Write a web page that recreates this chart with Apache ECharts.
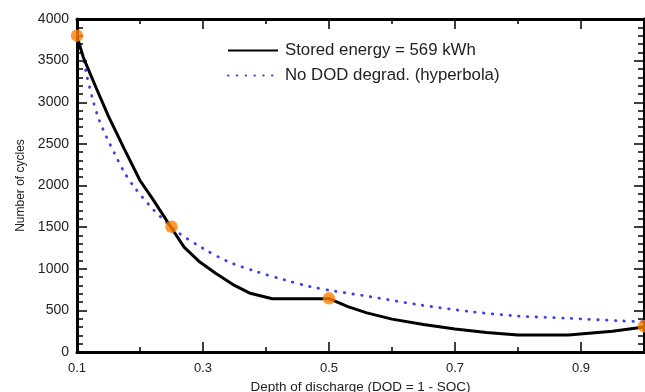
<!DOCTYPE html>
<html>
<head>
<meta charset="utf-8">
<script src="https://cdn.jsdelivr.net/npm/echarts@6/dist/echarts.min.js"></script>
<style>
html,body{margin:0;padding:0;background:#fff;}
#c{width:645px;height:392px;}
</style>
</head>
<body>
<div id="c"></div>
<script>
// Data
var storedDod = [0.1, 0.11, 0.13, 0.15, 0.175, 0.2, 0.22, 0.25, 0.27, 0.295, 0.32, 0.35, 0.375, 0.41, 0.5, 0.53, 0.56, 0.6, 0.65, 0.7, 0.75, 0.8, 0.88, 0.95, 1.0];
var storedCycles = [3790, 3540, 3180, 2830, 2440, 2060, 1840, 1490, 1260, 1080, 945, 800, 705, 640, 640, 545, 470, 395, 330, 275, 235, 205, 205, 250, 300];

var hypDod = [0.1, 0.105, 0.115, 0.125, 0.135, 0.147, 0.16, 0.175, 0.19, 0.22, 0.26, 0.3, 0.34, 0.385, 0.43, 0.47, 0.51, 0.565, 0.645, 0.725, 0.8, 0.88, 0.96, 1.0];
var hypCycles = [3800, 3680, 3340, 3030, 2790, 2580, 2380, 2160, 1990, 1720, 1440, 1245, 1085, 965, 865, 785, 730, 665, 565, 485, 432, 405, 375, 362];

var markerDod = [0.1, 0.25, 0.5, 1.0];
var markerCycles = [3800, 1505, 645, 310];

var xLabels = [0.1, 0.3, 0.5, 0.7, 0.9];
var xMajorTicks = [0.3, 0.5, 0.7, 0.9];

var seriesNames = ['Stored energy = 569 kWh', 'No DOD degrad. (hyperbola)'];
var xTitle = 'Depth of discharge (DOD = 1 - SOC)';
var yTitle = 'Number of cycles';

function zip(a, b) { return a.map(function (v, i) { return [v, b[i]]; }); }

var font = 'Liberation Sans, Arial, sans-serif';
var axisLineStyle = { color: '#000', width: 3 };

function xAxisBase(pos, major) {
  return {
    type: 'value', position: pos, min: 0.1, max: 1.0, interval: 0.1,
    axisLine: { show: !major, lineStyle: axisLineStyle },
    axisTick: major
      ? { show: true, inside: true, length: 10, lineStyle: { color: '#000', width: 1.5 }, customValues: xMajorTicks }
      : { show: true, inside: true, length: 5, lineStyle: { color: '#000', width: 1.5 } },
    axisLabel: { show: false },
    splitLine: { show: false }
  };
}

var chart = echarts.init(document.getElementById('c'), null, { renderer: 'canvas' });
var xMain = xAxisBase('bottom', false);
xMain.axisLabel = {
  show: true, fontSize: 13, color: '#222', fontFamily: font, margin: 10,
  customValues: xLabels,
  formatter: function (v) { return (Math.round(v * 10) / 10).toFixed(1); }
};
xMain.name = xTitle;
xMain.nameLocation = 'middle';
xMain.nameGap = 27;
xMain.nameTextStyle = { fontSize: 13.5, color: '#222', fontFamily: font };

function yAxisBase(pos, labels) {
  return {
    type: 'value', position: pos, min: 0, max: 4000, interval: 500,
    axisLine: { show: true, lineStyle: axisLineStyle },
    axisTick: { show: true, inside: true, length: 10, lineStyle: { color: '#000', width: 1.5 } },
    minorTick: { show: true, splitNumber: 5, length: 6, lineStyle: { color: '#000', width: 1.5 } },
    axisLabel: labels ? { show: true, fontSize: 14, color: '#222', fontFamily: font, margin: 8,
      formatter: function (v) { return String(v); } } : { show: false },
    splitLine: { show: false },
    minorSplitLine: { show: false }
  };
}
var yMain = yAxisBase('left', true);
yMain.name = yTitle;
yMain.nameLocation = 'middle';
yMain.nameGap = 48;
yMain.nameTextStyle = { fontSize: 12, color: '#222', fontFamily: font };

chart.setOption({
  animation: false,
  backgroundColor: '#fff',
  grid: { left: 77, right: 1, top: 19, bottom: 40, containLabel: false, outerBoundsMode: 'none' },
  legend: {
    data: seriesNames,
    orient: 'vertical', left: 222, top: 37,
    itemWidth: 50, itemHeight: 10, itemGap: 8,
    itemStyle: { opacity: 0 },
    textStyle: { fontSize: 16.8, color: '#222', fontFamily: font, padding: [0, 0, 0, 2] },
    selectedMode: false
  },
  xAxis: [xMain, xAxisBase('bottom', true), xAxisBase('top', false), xAxisBase('top', true)],
  yAxis: [yMain, yAxisBase('right', false)],
  series: [
    {
      name: seriesNames[0], type: 'line', xAxisIndex: 0, yAxisIndex: 0,
      data: zip(storedDod, storedCycles), symbol: 'none',
      lineStyle: { color: '#000', width: 3 }, itemStyle: { color: '#000' }, z: 3
    },
    {
      name: seriesNames[1], type: 'line', xAxisIndex: 0, yAxisIndex: 0,
      data: zip(hypDod, hypCycles), symbol: 'none', smooth: 0.3,
      lineStyle: { color: '#3c3cff', width: 2.8, type: [0.5, 8.3], cap: 'round' }, itemStyle: { color: '#3c3cff' }, z: 2
    },
    {
      name: 'markers', type: 'scatter', xAxisIndex: 0, yAxisIndex: 0,
      data: zip(markerDod, markerCycles), symbol: 'circle', symbolSize: 12.5,
      itemStyle: { color: '#ff8000' }, clip: false, z: 5
    }
  ]
});
</script>
</body>
</html>
